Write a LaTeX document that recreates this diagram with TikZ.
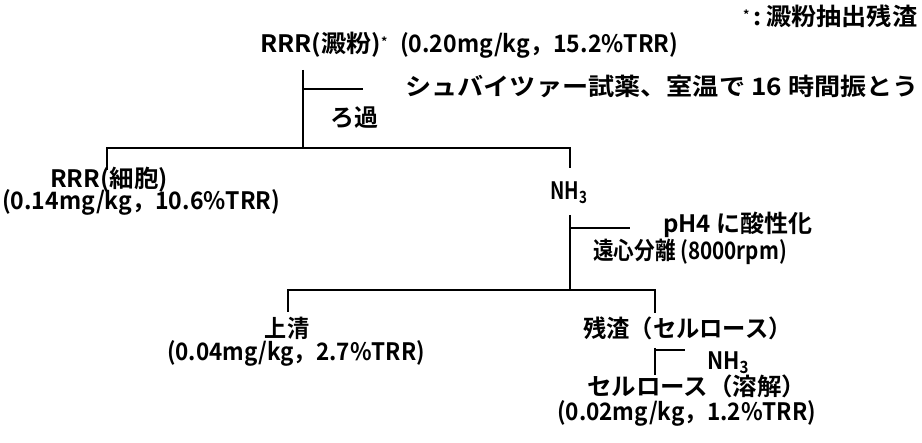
\documentclass[tikz,border=0pt]{standalone}
\usepackage{graphicx}
\usepackage{fontspec}
\setmainfont{Noto Sans CJK JP}[BoldFont={Noto Sans CJK JP Bold}]
\newcommand{\sx}[2]{\scalebox{#1}[1]{#2}}
\newcommand{\smallstar}{\raisebox{6pt}{\fontsize{12pt}{12pt}\selectfont *}}
\begin{document}
\begin{tikzpicture}[x=1pt,y=-1pt,
  txt/.style={inner sep=0pt, anchor=west, text height=18pt, text depth=2pt,
    font=\bfseries\fontsize{24pt}{28pt}\selectfont},
  ln/.style={line width=2pt}]
\useasboundingbox (0,0) rectangle (922,443);
% texts
\node[txt] (note) at (743,18) {\sx{1.05}{\smallstar\,:\,澱粉抽出残渣}};
\node[txt] (root) at (260,45) {\sx{1.05}{RRR(澱粉)\smallstar}};
\node[txt] (rootv) at (400,45) {\sx{0.96}{(0.20mg/kg，15.2\%TRR)}};
\node[txt] (reag) at (405,88) {\sx{1.09}{シュバイツァー試薬、室温で 16 時間振とう}};
\node[txt] (filt) at (330,119) {ろ過};
\node[txt] (cell) at (50,180) {\sx{1.02}{RRR(細胞)}};
\node[txt] (cellv) at (2,202) {\sx{0.96}{(0.14mg/kg，10.6\%TRR)}};
\node[txt] (nh1) at (550,192) {\sx{0.8}{NH\textsubscript{3}}};
\node[txt] (acid) at (663,225) {pH4 に酸性化};
\node[txt] (cent) at (593,252) {\sx{0.86}{遠心分離 (8000rpm)}};
\node[txt, anchor=center] (sup) at (287,330) {\sx{0.92}{上清}};
\node[txt, anchor=center] (supv) at (296,353) {\sx{0.935}{(0.04mg/kg，2.7\%TRR)}};
\node[txt] (res) at (583,330) {\sx{0.97}{残渣（セルロース）}};
\node[txt] (nh2) at (707,362) {\sx{0.9}{NH\textsubscript{3}}};
\node[txt] (cel) at (587,388) {\sx{1.02}{セルロース（溶解）}};
\node[txt] (celv) at (557,413) {\sx{0.94}{(0.02mg/kg，1.2\%TRR)}};
% junction coordinates
\coordinate (a1) at (303,70);
\coordinate (a2) at (303,148);
\coordinate (t1) at (303,89);
\coordinate (t1e) at (363,89);
\coordinate (bl) at (107,148);
\coordinate (bl2) at (107,170);
\coordinate (br) at (570,148);
\coordinate (br2) at (570,168);
\coordinate (b1) at (570,215);
\coordinate (b2) at (570,290);
\coordinate (t2) at (570,228);
\coordinate (t2e) at (630,228);
\coordinate (cl) at (288,290);
\coordinate (cl2) at (288,312);
\coordinate (cr) at (655,290);
\coordinate (cr2) at (655,313);
\coordinate (d1) at (655,348);
\coordinate (d2) at (655,375);
\coordinate (t3) at (655,350);
\coordinate (t3e) at (685,350);
% connectors
\draw[ln] (a1) -- (a2);
\draw[ln] (t1) -- (t1e);
\draw[ln] (bl2) -- (bl) -- (br) -- (br2);
\draw[ln] (b1) -- (b2);
\draw[ln] (t2) -- (t2e);
\draw[ln] (cl2) -- (cl) -- (cr) -- (cr2);
\draw[ln] (d1) -- (d2);
\draw[ln] (t3) -- (t3e);
\end{tikzpicture}
\end{document}
